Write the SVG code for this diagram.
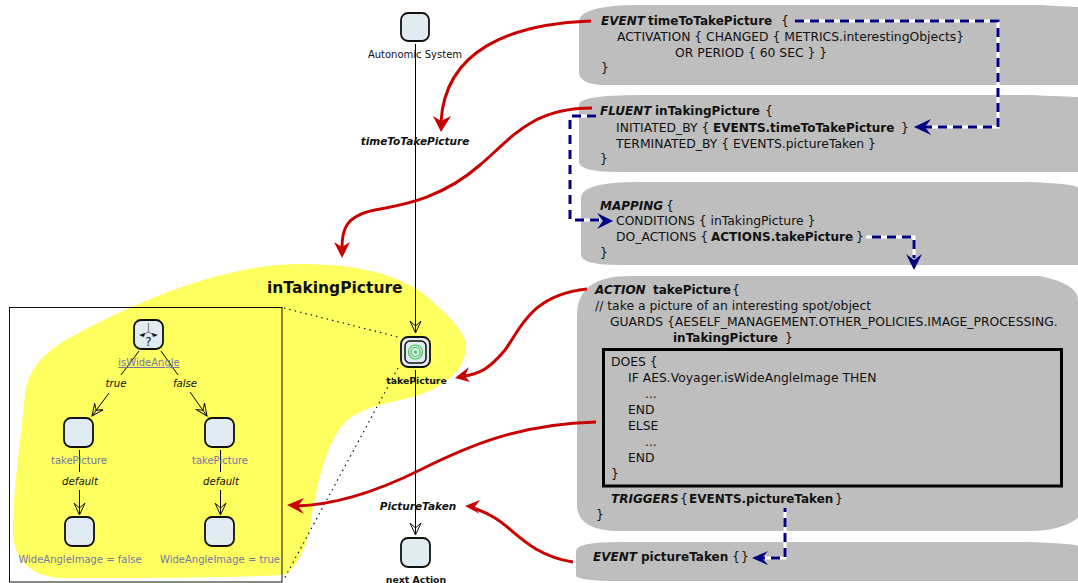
<svg xmlns="http://www.w3.org/2000/svg" width="1078" height="583" viewBox="0 0 1078 583">
<style>
text{font-family:"DejaVu Sans","Liberation Sans",sans-serif;fill:#111}
.c{font-size:12.37px}
.b{font-weight:700}
.c .b,.c .i{font-size:12px}
.i{font-style:italic;font-weight:700}
.n{fill:#e1ebf2;stroke:#111;stroke-width:1.8}
.l{font-size:10px;text-anchor:middle}
.p{fill:#7676a2}
.e{font-size:10.2px;text-anchor:middle;font-style:italic;fill:#111}
.blk{fill:#bebebe}
.flow{fill:none;stroke:#000;stroke-width:1}
.w{fill:none;stroke:#fff;stroke-width:3}
.d{fill:none;stroke:#000080;stroke-width:3;stroke-dasharray:9 6}
.r{fill:none;stroke:#c80000;stroke-width:3}
.rh{fill:#c80000}
.bh{fill:#000080}
.dot{fill:none;stroke:#111;stroke-width:1.2;stroke-dasharray:1.5 4}
</style>
<defs>
<marker id="o" markerUnits="userSpaceOnUse" markerWidth="14" markerHeight="16" refX="12" refY="7" orient="auto"><path d="M0,1.5L12,7L0,12.5L5,7Z" fill="none" stroke="#111" stroke-width="1"/></marker>
</defs>
<g id="blocks">
<path class="blk" d="M579,22Q579,5 640,5H1040Q1078,7 1078,7V85H600Q579,83 579,72Z"/>
<path class="blk" d="M579,105Q579,95 640,95H1030Q1078,97 1078,97V172H620Q579,172 579,162Z"/>
<path class="blk" d="M581,198Q581,182 640,182H1030Q1078,184 1078,188V265H620Q581,265 581,255Z"/>
<path class="blk" d="M577,315Q577,276 630,276H1040Q1078,284 1078,300V518Q1060,531 1030,531H620Q577,531 577,505Z"/>
<path class="blk" d="M576,551Q576,542 620,542H1030Q1078,544 1078,546V581H620Q576,581 576,575Z"/>
</g>
<g id="inTakingPicture-region">
<path fill="#ffff60" d="M300,264C350,264 395,272 425,295C440,308 466,330 466,346C466,372 440,392 400,400C372,406 352,412 340,428C325,450 318,480 312,515C308,545 298,568 284,575C230,578 130,578 60,578C25,575 13,555 13,530C13,490 22,430 25,395C27,370 45,350 75,335C130,305 220,264 300,264Z"/>
<text x="267" y="293" font-size="15.500" class="b">inTakingPicture</text>
<rect x="9.500" y="307.500" width="272.500" height="274.500" fill="none" stroke="#111" stroke-width="1"/>
<path class="dot" d="M284,308L398,337M398,368L283,581"/>
</g>
<g id="connectors">
<path class="flow" d="M415.500,44V333" marker-end="url(#o)"/>
<path class="flow" d="M415.500,370V535" marker-end="url(#o)"/>
<path class="flow" d="M139,351L121,375M161,351L178,375M79.500,450V472M220.500,450V472"/>
<path class="flow" d="M109,393L92,416" marker-end="url(#o)"/>
<path class="flow" d="M190,392L207,416" marker-end="url(#o)"/>
<path class="flow" d="M79.500,490V515" marker-end="url(#o)"/>
<path class="flow" d="M220.500,490V515" marker-end="url(#o)"/>
<path class="w" d="M795,21H998V127H925"/><path class="d" d="M795,21H998V127H925"/>
<path class="bh" d="M914,127L931,119L925,127L931,135Z"/>
<path class="w" d="M596,116H570V220H600"/><path class="d" d="M596,116H570V220H600"/>
<path class="bh" d="M613,221L597,213L603,221L597,229Z"/>
<path class="w" d="M866,237H914V258"/><path class="d" d="M866,237H914V258" stroke-dashoffset="-6"/>
<path class="bh" d="M914,270L906,254L914,260L922,254Z"/>
<path class="w" d="M785,508V558H762"/><path class="d" d="M785,508V558H762" stroke-dashoffset="-10"/>
<path class="bh" d="M752,558L768,551L762,558L768,565Z"/>
<path class="r" d="M591,21C510,24 445,50 441,122"/><path class="rh" d="M441,132L433,116L441,121L451,116Z"/>
<path class="r" d="M592,108C530,108 510,140 480,165C440,200 400,205 375,210C345,216 342,230 342,248"/><path class="rh" d="M342,258L334,242L342,247L350,242Z"/>
<path class="r" d="M587,289C530,295 520,330 505,350C490,368 480,374 464,376"/><path class="rh" d="M455,378L469,367L465,376L470,382Z"/>
<path class="r" d="M596,422C520,424 470,445 420,470C370,495 330,505 296,506"/><path class="rh" d="M287,505L304,498L298,506L304,514Z"/>
<path class="r" d="M573,562C530,555 515,530 495,518C485,512 480,510 473,508"/><path class="rh" d="M465,506L480,500L474,508L480,514Z"/>
</g>
<g id="autonomic-system"><rect class="n" x="401" y="13" width="28" height="28" rx="7"/><text class="l" x="415" y="58">Autonomic System</text></g>
<g id="time-to-take-picture"><text x="415" y="145" font-size="10.500" text-anchor="middle" class="i">timeToTakePicture</text></g>
<g id="take-picture">
<rect class="n" x="401" y="337" width="29" height="30" rx="7"/>
<rect x="405" y="341" width="21" height="22" rx="5" fill="#e1ebf2" stroke="#111" stroke-width="1.500"/>
<g fill="none" stroke="#2fc83a" stroke-width="1.200"><circle cx="415.500" cy="352" r="7"/><circle cx="415.500" cy="352" r="4.500"/></g><circle cx="415.500" cy="352" r="1.500" fill="#2fc83a"/>
<text x="416.500" y="384" font-size="9.300" text-anchor="middle" class="b">takePicture</text></g>
<g id="picture-taken"><text x="418" y="510" font-size="10.500" text-anchor="middle" class="i">PictureTaken</text></g>
<g id="next-action"><rect class="n" x="401" y="538" width="29" height="29" rx="7"/><text x="416" y="583" font-size="9.400" text-anchor="middle" class="b">next Action</text></g>
<g id="is-wide-angle"><rect class="n" x="134" y="320" width="29" height="29" rx="7"/>
<path d="M148.500,323V332L141,336M148.500,332L156,336" fill="none" stroke="#888" stroke-width="1.200"/>
<path d="M139,335L145,333L144,337ZM158,335L152,333L153,337Z" fill="#111"/>
<text x="148.500" y="346" font-size="12" text-anchor="middle">?</text>
<text class="l p" x="149" y="366" text-decoration="underline">isWideAngle</text></g>
<g id="label-true"><text class="e" x="116" y="387">true</text></g>
<g id="label-false"><text class="e" x="185" y="387">false</text></g>
<g id="take-picture-left"><rect class="n" x="64" y="418" width="29" height="29" rx="7"/><text class="l p" x="79" y="464">takePicture</text></g>
<g id="take-picture-right"><rect class="n" x="205" y="418" width="29" height="29" rx="7"/><text class="l p" x="220" y="464">takePicture</text></g>
<g id="label-default-left"><text class="e" x="80" y="485">default</text></g>
<g id="label-default-right"><text class="e" x="221" y="485">default</text></g>
<g id="wide-false"><rect class="n" x="65" y="517" width="29" height="29" rx="7"/><text class="l p" x="80" y="563">WideAngleImage = false</text></g>
<g id="wide-true"><rect class="n" x="205" y="517" width="29" height="29" rx="7"/><text class="l p" x="220" y="563">WideAngleImage = true</text></g>
<g id="event-time" class="c">
<text x="601" y="25"><tspan class="i">EVENT</tspan> <tspan class="b" x="648">timeToTakePicture</tspan> <tspan x="781">{</tspan></text>
<text x="617" y="41">ACTIVATION { CHANGED { METRICS.interestingObjects}</text>
<text x="675" y="57">OR PERIOD { 60 SEC } }</text>
<text x="601" y="72">}</text></g>
<g id="fluent" class="c">
<text x="600" y="115"><tspan class="i">FLUENT</tspan> <tspan class="b" x="655">inTakingPicture</tspan> <tspan x="765">{</tspan></text>
<text x="616" y="132">INITIATED_BY { <tspan class="b" x="713">EVENTS.timeToTakePicture</tspan> <tspan x="901">}</tspan></text>
<text x="616" y="148">TERMINATED_BY { EVENTS.pictureTaken }</text>
<text x="600" y="163">}</text></g>
<g id="mapping" class="c">
<text x="600" y="210"><tspan class="i">MAPPING</tspan> <tspan x="666">{</tspan></text>
<text x="616" y="225">CONDITIONS { inTakingPicture }</text>
<text x="616" y="241">DO_ACTIONS { <tspan class="b" x="711">ACTIONS.takePicture</tspan> <tspan x="856">}</tspan></text>
<text x="600" y="257">}</text></g>
<g id="action" class="c">
<text x="595" y="294"><tspan class="i">ACTION</tspan> <tspan class="b" x="653">takePicture</tspan> <tspan x="732">{</tspan></text>
<text x="595" y="310">// take a picture of an interesting spot/object</text>
<text x="610" y="326">GUARDS {AESELF_MANAGEMENT.OTHER_POLICIES.IMAGE_PROCESSING.</text>
<text x="673" y="342"><tspan class="b">inTakingPicture</tspan> <tspan x="785">}</tspan></text>
<rect x="603.500" y="349.500" width="458" height="136.500" fill="none" stroke="#000" stroke-width="3"/>
<text x="611" y="366">DOES {</text>
<text x="628" y="382">IF AES.Voyager.isWideAngleImage THEN</text>
<text x="645" y="398">...</text>
<text x="628" y="414">END</text>
<text x="628" y="430">ELSE</text>
<text x="645" y="446">...</text>
<text x="628" y="462">END</text>
<text x="611" y="478">}</text>
<text x="611" y="503"><tspan class="i">TRIGGERS</tspan> <tspan x="680">{</tspan> <tspan class="b" x="689">EVENTS.pictureTaken</tspan> <tspan x="835">}</tspan></text>
<text x="596" y="519">}</text></g>
<g id="event-picture-taken" class="c"><text x="593" y="561"><tspan class="i">EVENT</tspan> <tspan class="b" x="641">pictureTaken</tspan> <tspan x="732">{</tspan> <tspan x="741">}</tspan></text></g>
</svg>
